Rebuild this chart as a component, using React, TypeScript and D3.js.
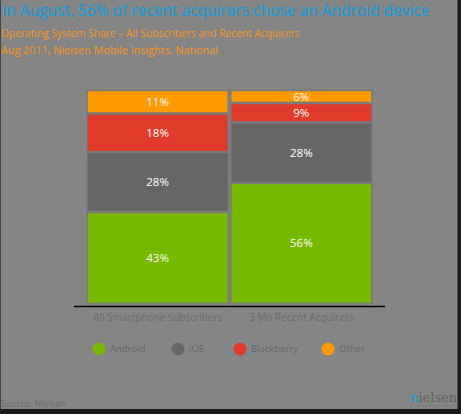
import React, { useEffect, useRef } from 'react';
import * as d3 from 'd3';

const categories = ['All Smartphone Subscribers', '3 Mo Recent Acquirers'];
const osNames = ['Android', 'iOS', 'Blackberry', 'Other'];
const android = [43, 56];
const ios = [28, 28];
const blackberry = [18, 9];
const other = [11, 6];
const osColors = ['#77b800', '#666666', '#e23a2b', '#ff9900'];

const W = 461;
const H = 414;

const App: React.FC = () => {
    const svgRef = useRef<SVGSVGElement>(null);

    useEffect(() => {
        if (!svgRef.current) return;
        const svg = d3.select(svgRef.current);
        svg.selectAll('*').remove();

        const font = "'Open Sans', 'Noto Sans', sans-serif";

        // frame with dark shadow on right / bottom
        svg.append('rect').attr('width', W).attr('height', H).attr('fill', '#1a1a1a');
        svg.append('rect').attr('x', 0.5).attr('y', 0).attr('width', W - 4).attr('height', H - 5)
            .attr('fill', '#858585');
        svg.append('line').attr('x1', 0.5).attr('x2', 0.5).attr('y1', 0).attr('y2', H - 5)
            .attr('stroke', '#444').attr('stroke-width', 1);

        // titles
        svg.append('text').attr('x', 2).attr('y', 16)
            .attr('fill', '#0b9ede').style('font-family', font).style('font-size', '15.5px')
            .text('In August, 56% of recent acquirers chose an Android device');
        svg.append('text').attr('x', 1).attr('y', 37)
            .attr('fill', '#f7941d').style('font-family', font).style('font-size', '10.2px')
            .text('Operating System Share \u2013 All Subscribers and Recent Acquirers');
        svg.append('text').attr('x', 1).attr('y', 54)
            .attr('fill', '#f7941d').style('font-family', font).style('font-size', '10.8px')
            .text('Aug 2011, Nielsen Mobile Insights, National');

        const rows = categories.map((c, i) => ({
            cat: c,
            Android: android[i],
            iOS: ios[i],
            Blackberry: blackberry[i],
            Other: other[i],
        }));

        const stack = d3.stack<any>().keys(osNames).offset(d3.stackOffsetExpand);
        const series = stack(rows);

        const x = d3.scaleBand().domain(categories).range([86.5, 372.5]).paddingInner(0.01);
        const y = d3.scaleLinear().domain([0, 1]).range([304, 90]);

        const chart = svg.append('g');
        series.forEach((s, si) => {
            s.forEach((d, i) => {
                const x0 = x(categories[i]) || 0;
                const top = y(d[1]);
                const bot = y(d[0]);
                chart.append('rect')
                    .attr('x', x0 + 0.5).attr('y', top + 0.5)
                    .attr('width', x.bandwidth() - 1).attr('height', bot - top - 1)
                    .attr('fill', osColors[si])
                    .attr('stroke', '#7a7a7a').attr('stroke-width', 1.5);
                const value = [android, ios, blackberry, other][si][i];
                chart.append('text')
                    .attr('x', x0 + x.bandwidth() / 2).attr('y', (top + bot) / 2)
                    .attr('dy', '0.35em').attr('text-anchor', 'middle')
                    .attr('fill', '#ffffff').style('font-family', font).style('font-size', '11.5px')
                    .text(`${value}%`);
            });
        });

        // baseline
        svg.append('line').attr('x1', 74).attr('x2', 385).attr('y1', 306.5).attr('y2', 306.5)
            .attr('stroke', '#000').attr('stroke-width', 1.5);

        const axis = svg.append('g').attr('transform', 'translate(0,306)')
            .call(d3.axisBottom(x).tickSize(0).tickPadding(8));
        axis.select('.domain').remove();
        axis.selectAll('text').attr('fill', '#6b6b6b').style('font-family', font).style('font-size', '10px');

        // legend
        const legendX = [99, 178, 240, 328];
        const legend = svg.append('g').attr('transform', 'translate(0,349)');
        osNames.forEach((n, i) => {
            legend.append('circle').attr('cx', legendX[i]).attr('cy', 0).attr('r', 6.5).attr('fill', osColors[i]);
            legend.append('text').attr('x', legendX[i] + 11).attr('y', 0).attr('dy', '0.35em')
                .attr('fill', '#666').style('font-family', font).style('font-size', '9.5px').text(n);
        });

        // source
        svg.append('text').attr('x', 1).attr('y', 407)
            .attr('fill', '#6b6b6b').style('font-family', font).style('font-size', '9px')
            .text('Source: Nielsen');

        // logo
        const logo = svg.append('text').attr('x', 410).attr('y', 402)
            .style('font-family', "'DejaVu Serif', 'Liberation Serif', serif").style('font-size', '13px');
        logo.append('tspan').attr('fill', '#0b9ede').text('n');
        logo.append('tspan').attr('fill', '#606060').text('ielsen');
        svg.append('line').attr('x1', 411).attr('x2', 456).attr('y1', 406).attr('y2', 406)
            .attr('stroke', '#666').attr('stroke-dasharray', '1,2');
    }, []);

    return <svg ref={svgRef} width={W} height={H} style={{ display: 'block', position: 'absolute', left: 0, top: 0 }} />;
};

export default App;
